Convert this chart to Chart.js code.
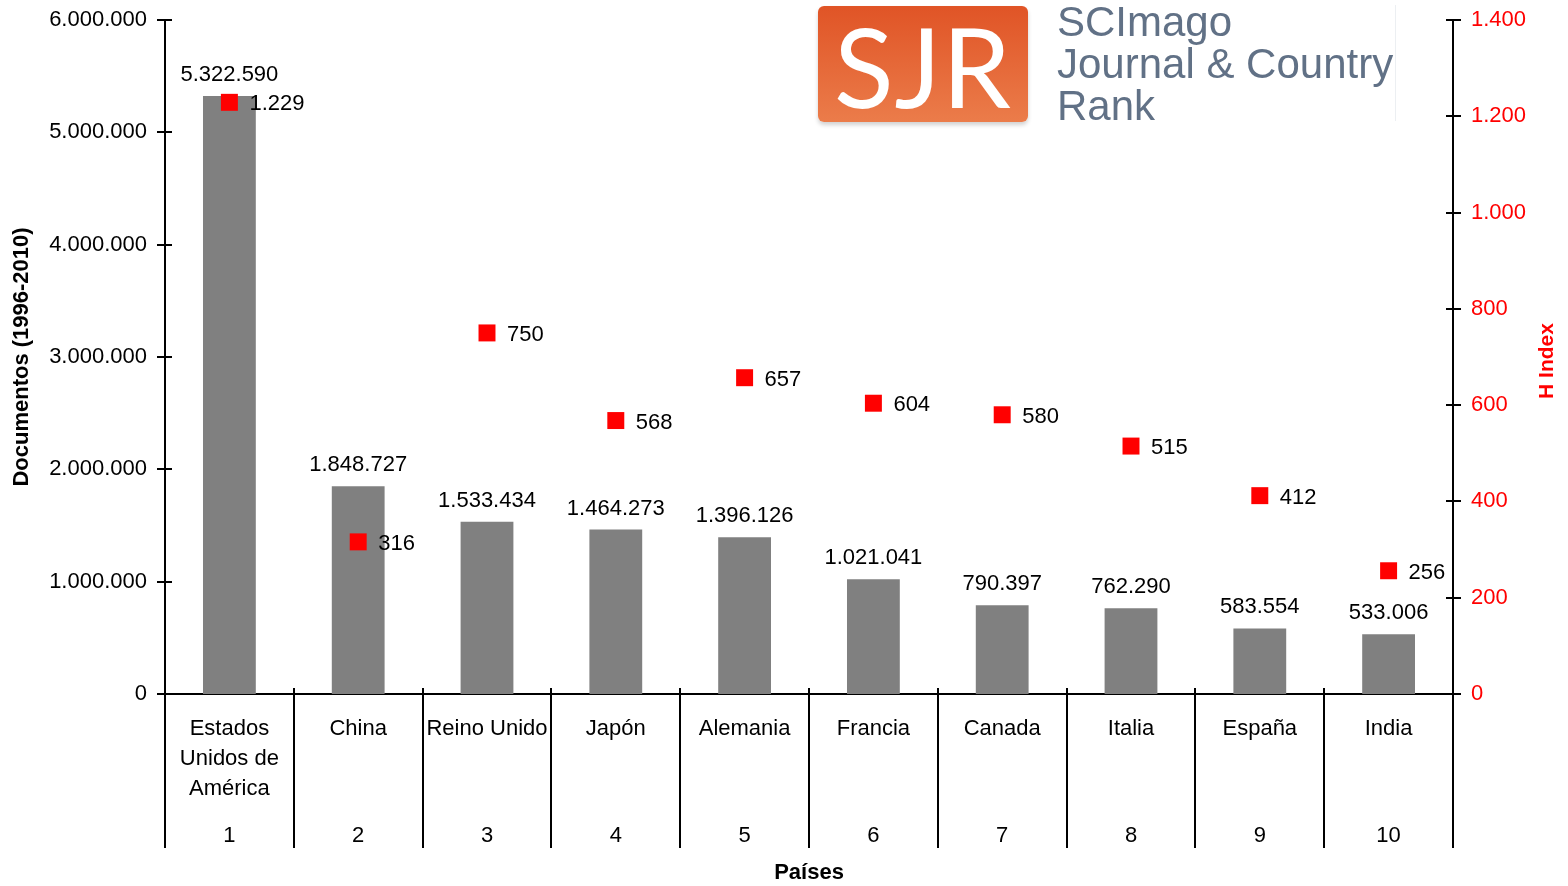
<!DOCTYPE html>
<html>
<head>
<meta charset="utf-8">
<script src="https://cdn.jsdelivr.net/npm/chart.js@4.4.1/dist/chart.umd.min.js"></script>
<style>
  html, body { margin: 0; padding: 0; background: #fff; }
  #wrap { position: relative; width: 1568px; height: 886px; }
  #chart { position: absolute; left: 0; top: 0; }
  .logo-box {
    position: absolute; left: 818px; top: 6px; width: 210px; height: 116px;
    border-radius: 6px;
    background: linear-gradient(#e05426, #eb7c4a);
    box-shadow: 0 3px 4px rgba(0,0,0,0.18);
    color: #fff; font-family: Lato, 'Open Sans', sans-serif; font-size: 110px;
    line-height: 118px; text-align: center; letter-spacing: 1px;
  }
  .logo-text {
    position: absolute; left: 1057px; top: 1px;
    font-family: 'Liberation Sans', Arial, sans-serif; font-size: 42px; line-height: 42px;
    color: #617186; white-space: nowrap;
  }
  .logo-edge { position: absolute; left: 1395px; top: 5px; width: 1px; height: 116px; background: #eceff2; }
</style>
</head>
<body>
<div id="wrap">
  <canvas id="chart" width="1568" height="886"></canvas>
  <div class="logo-box">SJR</div>
  <div class="logo-text">SCImago<br>Journal &amp; Country<br>Rank</div>
  <div class="logo-edge"></div>
</div>
<script>
const countries = [['Estados', 'Unidos de', 'América'], 'China', 'Reino Unido', 'Japón', 'Alemania',
                   'Francia', 'Canada', 'Italia', 'España', 'India'];
const ranks = ['1', '2', '3', '4', '5', '6', '7', '8', '9', '10'];
const documentos = [5322590, 1848727, 1533434, 1464273, 1396126, 1021041, 790397, 762290, 583554, 533006];
const hIndex = [1229, 316, 750, 568, 657, 604, 580, 515, 412, 256];

const FONT = "'Liberation Sans', Arial, sans-serif";
const RED = '#ff0000';

// 1234567 -> "1.234.567"
function fmt(v) {
    return String(Math.round(v)).replace(/\B(?=(\d{3})+(?!\d))/g, '.');
}

// value axes: fixed width, no extra padding for the end labels
const fitY = width => s => {
    s.width = width;
    s.paddingTop = 0;
    s.paddingBottom = 0;
};

const extras = {
    id: 'extras',
    afterDraw(chart) {
        const { ctx, chartArea } = chart;
        const x = chart.scales.x;
        const y = chart.scales.y;
        const y1 = chart.scales.y1;
        ctx.save();
        ctx.strokeStyle = '#000';
        ctx.lineWidth = 2;

        // ticks crossing the value axes
        ctx.beginPath();
        y.ticks.forEach(t => {
            const py = Math.round(y.getPixelForValue(t.value));
            ctx.moveTo(chartArea.left - 8, py);
            ctx.lineTo(chartArea.left + 7, py);
        });
        y1.ticks.forEach(t => {
            const py = Math.round(y1.getPixelForValue(t.value));
            ctx.moveTo(chartArea.right - 7, py);
            ctx.lineTo(chartArea.right + 8, py);
        });

        // category separators below the axis
        const step = (chartArea.right - chartArea.left) / countries.length;
        for (let k = 0; k <= countries.length; k++) {
            const px = Math.round(chartArea.left + k * step);
            const top = (k === 0 || k === countries.length) ? chartArea.bottom : chartArea.bottom - 6;
            ctx.moveTo(px, top);
            ctx.lineTo(px, 848);
        }
        ctx.stroke();

        // rank row
        ctx.fillStyle = '#000';
        ctx.font = '22px ' + FONT;
        ctx.textAlign = 'center';
        ctx.textBaseline = 'middle';
        ranks.forEach((r, i) => ctx.fillText(r, x.getPixelForValue(i), 836));

        // value labels
        chart.getDatasetMeta(0).data.forEach((bar, i) => {
            ctx.textBaseline = 'alphabetic';
            ctx.fillText(fmt(documentos[i]), bar.x, bar.y - 15);
        });
        ctx.textAlign = 'left';
        ctx.textBaseline = 'middle';
        chart.getDatasetMeta(1).data.forEach((pt, i) => {
            ctx.fillText(fmt(hIndex[i]), pt.x + 20, pt.y + 2);
        });

        // right axis title, reading bottom to top
        ctx.translate(1547, (chartArea.top + chartArea.bottom) / 2 + 4);
        ctx.rotate(-Math.PI / 2);
        ctx.fillStyle = RED;
        ctx.font = 'bold 21px ' + FONT;
        ctx.textAlign = 'center';
        ctx.fillText('H Index', 0, 0);
        ctx.restore();
    }
};

new Chart(document.getElementById('chart'), {
    data: {
        labels: countries,
        datasets: [
            {
                type: 'bar',
                label: 'Documentos',
                data: documentos,
                backgroundColor: '#808080',
                barPercentage: 0.41,
                categoryPercentage: 1,
                yAxisID: 'y',
                order: 2
            },
            {
                type: 'line',
                label: 'H Index',
                data: hIndex,
                showLine: false,
                pointStyle: 'rect',
                pointRadius: 12,
                pointHoverRadius: 12,
                pointBorderWidth: 0,
                pointBackgroundColor: RED,
                pointBorderColor: RED,
                yAxisID: 'y1',
                order: 1
            }
        ]
    },
    options: {
        responsive: false,
        animation: false,
        events: [],
        layout: { padding: { top: 20, left: 0, right: 0, bottom: 0 } },
        plugins: { legend: { display: false }, tooltip: { enabled: false } },
        font: { family: FONT },
        scales: {
            x: {
                grid: { display: false, drawTicks: false },
                border: { display: true, color: '#000', width: 2 },
                ticks: {
                    color: '#000', padding: 20, maxRotation: 0, autoSkip: false,
                    font: { family: FONT, size: 22, lineHeight: 30 / 22 }
                },
                title: {
                    display: true, text: 'Países', color: '#000',
                    font: { family: FONT, size: 22, weight: 'bold', lineHeight: 1.2 },
                    padding: { top: 0, bottom: 0 }
                },
                afterFit: s => { s.height = 192; }
            },
            y: {
                position: 'left',
                min: 0, max: 6000000,
                grid: { display: false, drawTicks: false },
                border: { display: true, color: '#000', width: 2 },
                ticks: {
                    stepSize: 1000000, color: '#000', padding: 18,
                    font: { family: FONT, size: 22 },
                    callback: v => fmt(v)
                },
                title: {
                    display: true, text: 'Documentos (1996-2010)', color: '#000',
                    font: { family: FONT, size: 22, weight: 'bold', lineHeight: 1.2 },
                    padding: { top: 9, bottom: 0 }
                },
                afterFit: fitY(165)
            },
            y1: {
                position: 'right',
                min: 0, max: 1400,
                grid: { display: false, drawTicks: false },
                border: { display: true, color: '#000', width: 2 },
                ticks: {
                    stepSize: 200, color: RED, padding: 18,
                    font: { family: FONT, size: 22 },
                    callback: v => fmt(v)
                },
                afterFit: fitY(115)
            }
        }
    },
    plugins: [extras]
});
</script>
</body>
</html>
